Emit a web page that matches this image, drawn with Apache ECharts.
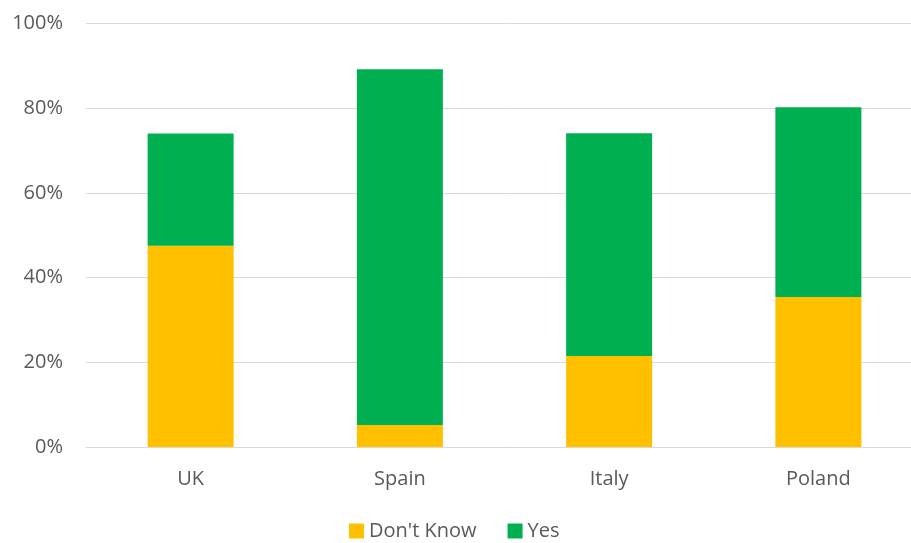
<!DOCTYPE html>
<html>
<head>
<meta charset="utf-8">
<script src="https://cdn.jsdelivr.net/npm/echarts@6/dist/echarts.min.js"></script>
<style>
  html, body { margin: 0; padding: 0; background: #fff; overflow: hidden; width: 911px; height: 543px; }
  /* plot runs slightly past the right edge of the view */
  #chart { width: 923px; height: 543px; }
</style>
</head>
<body>
<div id="chart"></div>
<script>
// Survey answers by country, stacked as share of respondents (%)
const countries = ['UK', 'Spain', 'Italy', 'Poland'];
const dontKnow = [47.5, 5.2, 21.5, 35.4];
const yes = [26.5, 84.0, 52.6, 44.8];
const yTicks = [0, 20, 40, 60, 80, 100];

const textColor = '#595959';
const fontFamily = '"Open Sans", "Liberation Sans", sans-serif';

const chart = echarts.init(document.getElementById('chart'));
chart.setOption({
  animation: false,
  textStyle: { fontFamily: fontFamily },
  grid: { left: 86, top: 23.5, right: 0, bottom: 96, containLabel: false },
  legend: {
    top: 521,
    left: 349,
    padding: 0,
    itemWidth: 15,
    itemHeight: 15,
    itemGap: 31,
    icon: 'rect',
    textStyle: { color: textColor, fontSize: 20, fontFamily: fontFamily },
    data: ['Don\'t Know', 'Yes']
  },
  xAxis: {
    type: 'category',
    data: countries,
    axisLine: { lineStyle: { color: '#d9d9d9', width: 1 } },
    axisTick: { show: false },
    axisLabel: { color: textColor, fontSize: 20, margin: 22, fontFamily: fontFamily }
  },
  yAxis: {
    type: 'value',
    min: yTicks[0],
    max: yTicks[yTicks.length - 1],
    interval: yTicks[1] - yTicks[0],
    axisLine: { show: false },
    axisTick: { show: false },
    splitLine: { lineStyle: { color: '#d9d9d9', width: 1 } },
    axisLabel: { color: textColor, fontSize: 20, margin: 23, formatter: '{value}%', fontFamily: fontFamily }
  },
  series: [
    {
      name: 'Don\'t Know',
      type: 'bar',
      stack: 'total',
      barWidth: 86,
      itemStyle: { color: '#FFC000' },
      data: dontKnow
    },
    {
      name: 'Yes',
      type: 'bar',
      stack: 'total',
      barWidth: 86,
      itemStyle: { color: '#00B050' },
      data: yes
    }
  ]
});
</script>
</body>
</html>
